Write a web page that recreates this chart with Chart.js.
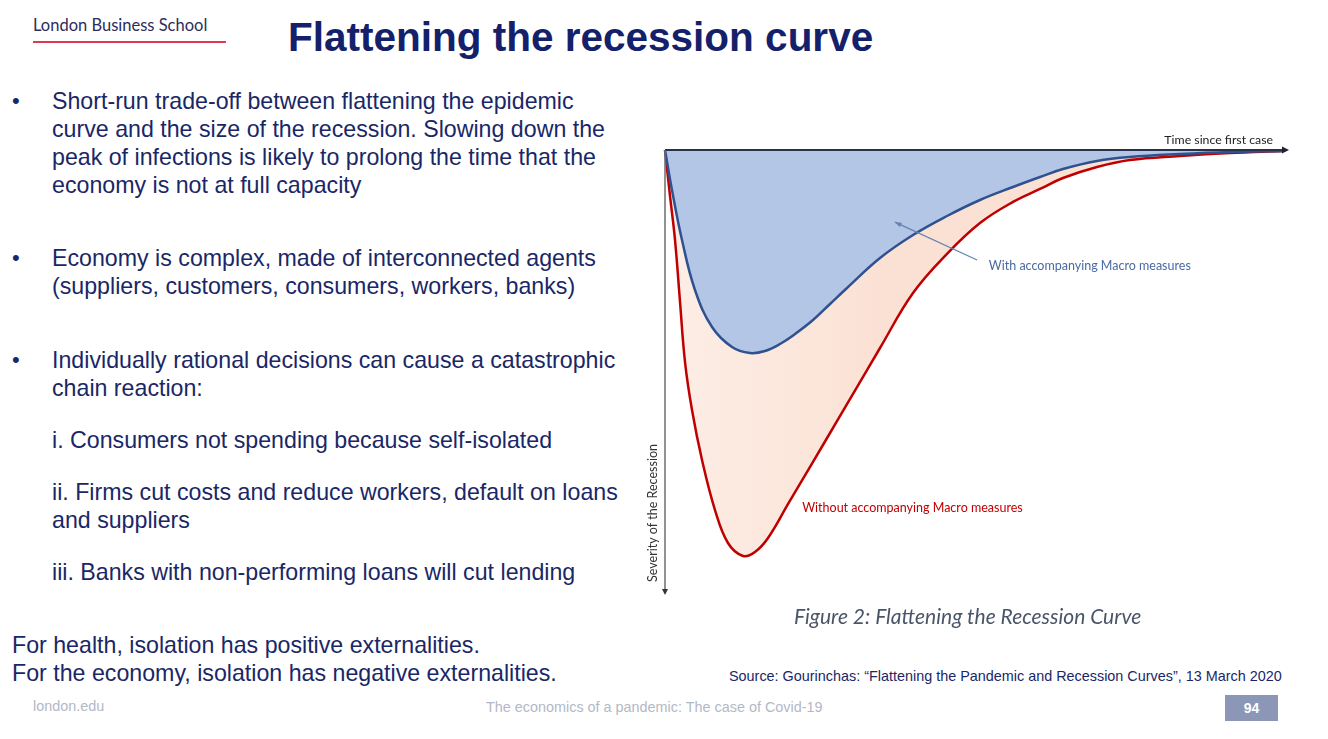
<!DOCTYPE html>
<html>
<head>
<meta charset="utf-8">
<script src="https://cdn.jsdelivr.net/npm/chart.js@4/dist/chart.umd.min.js"></script>
<style>
  html, body { margin:0; padding:0; background:#fff; }
  body { width:1328px; height:739px; position:relative; overflow:hidden; font-family:"Liberation Sans", Arial, sans-serif; }
  .abs { position:absolute; white-space:nowrap; }
  .logo { left:33px; top:15px; font-family:Lato, "Open Sans", sans-serif; font-size:16.5px; color:#2b2d5c; }
  .logoline { left:33px; top:41px; width:193px; height:2px; background:#e2384f; }
  .title { left:288px; top:13px; font-size:40.5px; font-weight:bold; color:#14216a; line-height:48px; }
  .txt { font-size:23.2px; line-height:28px; color:#1a2766; }
  .dot { left:12px; font-size:22px; line-height:28px; color:#1a2766; }
  .caption { left:794px; top:603px; font-family:Lato, "Open Sans", sans-serif; font-style:italic; font-size:21px; color:#4a5568; }
  .source { left:729px; top:668px; font-size:14.4px; color:#1a2766; }
  .foot { font-size:14.4px; color:#b3b8c6; }
  .page { left:1225px; top:695px; width:53px; height:26px; background:#8c97b7; color:#fff; font-weight:bold; font-size:14px; line-height:26px; text-align:center; }
  #wrap { position:absolute; left:600px; top:110px; width:720px; height:500px; }
</style>
</head>
<body>
<div class="abs logo">London Business School</div>
<div class="abs logoline"></div>
<div class="abs title">Flattening the recession curve</div>

<div class="abs dot" style="top:87px">•</div>
<div class="abs txt" style="left:52px;top:87px">Short-run trade-off between flattening the epidemic<br>curve and the size of the recession. Slowing down the<br>peak of infections is likely to prolong the time that the<br>economy is not at full capacity</div>

<div class="abs dot" style="top:244px">•</div>
<div class="abs txt" style="left:52px;top:244px">Economy is complex, made of interconnected agents<br>(suppliers, customers, consumers, workers, banks)</div>

<div class="abs dot" style="top:346px">•</div>
<div class="abs txt" style="left:52px;top:346px">Individually rational decisions can cause a catastrophic<br>chain reaction:</div>

<div class="abs txt" style="left:52px;top:426px">i. Consumers not spending because self-isolated</div>
<div class="abs txt" style="left:52px;top:478px">ii. Firms cut costs and reduce workers, default on loans<br>and suppliers</div>
<div class="abs txt" style="left:52px;top:558px">iii. Banks with non-performing loans will cut lending</div>

<div class="abs txt" style="left:12px;top:631px">For health, isolation has positive externalities.<br>For the economy, isolation has negative externalities.</div>

<div id="wrap"><canvas id="c" width="720" height="500"></canvas></div>

<div class="abs caption">Figure 2: Flattening the Recession Curve</div>
<div class="abs source">Source: Gourinchas: “Flattening the Pandemic and Recession Curves”, 13 March 2020</div>
<div class="abs foot" style="left:33px;top:698px">london.edu</div>
<div class="abs foot" style="left:486px;top:699px">The economics of a pandemic: The case of Covid-19</div>
<div class="abs page">94</div>

<script>
// Time since first case (0-100) and severity of the recession (0-100, drawn downward)
const timeWith = [0, 1.13, 2.75, 4.85, 7.61, 10.84, 13.75, 16.18, 18.61, 21.04, 23.95, 26.70, 29.45, 34.79, 40.13, 45.63, 50.97, 56.31, 60.68, 64.40, 69.90, 75.24, 83.33, 91.42, 100];
const severityWith = [0, 9.09, 20.45, 31.82, 40.23, 44.77, 46.14, 45.68, 44.09, 41.82, 38.64, 35.0, 31.36, 24.55, 19.32, 15.0, 11.36, 8.41, 6.14, 4.32, 2.5, 1.59, 0.91, 0.45, 0.23];

const timeWithout = [0, 0.81, 1.62, 2.43, 3.24, 4.37, 5.99, 8.09, 10.19, 12.62, 14.56, 16.67, 20.06, 23.95, 27.83, 31.07, 34.79, 40.13, 45.63, 50.97, 56.31, 60.68, 64.40, 69.90, 75.24, 83.33, 91.42, 100];
const severityWithout = [0, 10.45, 20.45, 34.5, 48.2, 59.1, 70.45, 81.82, 89.32, 92.27, 91.36, 88.18, 80.1, 70.9, 61.6, 53.9, 45.0, 32.5, 23.6, 16.6, 11.8, 8.86, 6.36, 3.86, 2.27, 1.36, 0.68, 0.23];

const labelWith = "With accompanying Macro measures";
const labelWithout = "Without accompanying Macro measures";
const xTitle = "Time since first case";
const yTitle = "Severity of the Recession";

const toPts = (xs, ys) => xs.map((t, i) => ({ x: t, y: ys[i] }));

const peachFill = (c) => {
  const { ctx, chartArea } = c.chart;
  if (!chartArea) return '#fbe3d6';
  const g = ctx.createLinearGradient(chartArea.left, 0, chartArea.left + 220, 0);
  g.addColorStop(0, '#fdeee6');
  g.addColorStop(1, '#fbe1d4');
  return g;
};

const decor = {
  id: 'decor',
  afterDatasetsDraw(chart) {
    const { ctx, chartArea: a, scales: { x, y } } = chart;
    ctx.save();
    // top (time) axis
    ctx.strokeStyle = '#27314a';
    ctx.lineWidth = 2;
    ctx.beginPath(); ctx.moveTo(a.left, a.top); ctx.lineTo(a.right + 1, a.top); ctx.stroke();
    ctx.fillStyle = '#1c2336';
    ctx.beginPath(); ctx.moveTo(a.right + 6, a.top); ctx.lineTo(a.right - 1, a.top - 3.5); ctx.lineTo(a.right - 1, a.top + 3.5); ctx.closePath(); ctx.fill();
    // left (severity) axis
    ctx.strokeStyle = '#6d6d6d';
    ctx.lineWidth = 1.5;
    ctx.beginPath(); ctx.moveTo(a.left, a.top); ctx.lineTo(a.left, a.bottom); ctx.stroke();
    ctx.fillStyle = '#333';
    ctx.beginPath(); ctx.moveTo(a.left, a.bottom + 5); ctx.lineTo(a.left - 3, a.bottom - 1); ctx.lineTo(a.left + 3, a.bottom - 1); ctx.closePath(); ctx.fill();

    // axis titles
    ctx.fillStyle = '#222';
    ctx.font = '12.3px Lato, "Open Sans", sans-serif';
    ctx.textAlign = 'right'; ctx.textBaseline = 'alphabetic';
    ctx.fillText(xTitle, a.right - 10, a.top - 6);
    ctx.save();
    ctx.translate(a.left - 12, y.getPixelForValue(82.5));
    ctx.rotate(-Math.PI / 2);
    ctx.textAlign = 'center'; ctx.textBaseline = 'middle';
    ctx.font = '12.5px Lato, "Open Sans", sans-serif';
    ctx.fillStyle = '#333';
    ctx.fillText(yTitle, 0, 0);
    ctx.restore();

    // annotation arrow for the "with" curve
    const x0 = x.getPixelForValue(50.5), y0 = y.getPixelForValue(25.0);
    const x1 = x.getPixelForValue(37.2), y1 = y.getPixelForValue(16.4);
    ctx.strokeStyle = '#6381b5'; ctx.lineWidth = 1.2;
    ctx.beginPath(); ctx.moveTo(x0, y0); ctx.lineTo(x1, y1); ctx.stroke();
    const ang = Math.atan2(y1 - y0, x1 - x0);
    ctx.fillStyle = '#6381b5';
    ctx.beginPath();
    ctx.moveTo(x1, y1);
    ctx.lineTo(x1 - 7 * Math.cos(ang - 0.35), y1 - 7 * Math.sin(ang - 0.35));
    ctx.lineTo(x1 - 7 * Math.cos(ang + 0.35), y1 - 7 * Math.sin(ang + 0.35));
    ctx.closePath(); ctx.fill();

    // curve labels
    ctx.font = '12.5px Lato, "Open Sans", sans-serif';
    ctx.textAlign = 'left'; ctx.textBaseline = 'middle';
    ctx.fillStyle = '#4a6aa3';
    ctx.fillText(labelWith, x.getPixelForValue(52.4), y.getPixelForValue(26.4));
    ctx.fillStyle = '#c00000';
    ctx.fillText(labelWithout, x.getPixelForValue(22.2), y.getPixelForValue(81.4));
    ctx.restore();
  }
};

new Chart(document.getElementById('c'), {
  type: 'line',
  data: {
    datasets: [
      {
        label: labelWith,
        data: toPts(timeWith, severityWith),
        borderColor: '#2f5190',
        backgroundColor: '#b3c6e6',
        borderWidth: 2.5,
        fill: 'origin',
        pointRadius: 0,
        tension: 0.4,
        clip: false
      },
      {
        label: labelWithout,
        data: toPts(timeWithout, severityWithout),
        borderColor: '#c00000',
        backgroundColor: peachFill,
        borderWidth: 2.5,
        fill: 'origin',
        pointRadius: 0,
        tension: 0.4,
        clip: false
      }
    ]
  },
  options: {
    responsive: false,
    animation: false,
    devicePixelRatio: 1,
    layout: { padding: { left: 65, right: 37, top: 40, bottom: 20 } },
    plugins: { legend: { display: false }, tooltip: { enabled: false } },
    scales: {
      x: { type: 'linear', min: 0, max: 100, display: false },
      y: { type: 'linear', min: 0, max: 100, reverse: true, display: false }
    }
  },
  plugins: [decor]
});
</script>
</body>
</html>
